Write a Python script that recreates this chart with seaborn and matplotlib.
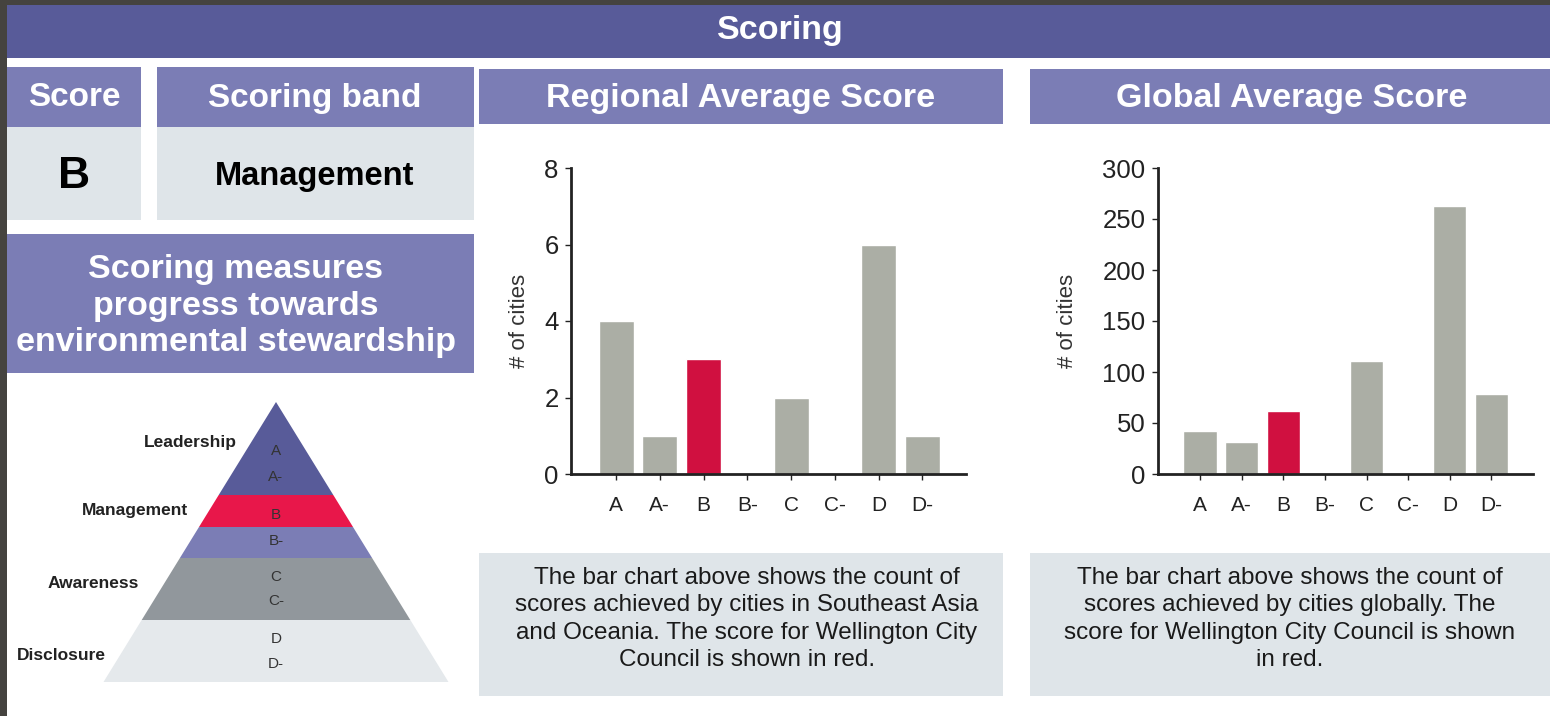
import matplotlib
matplotlib.use("Agg")
import matplotlib.pyplot as plt
from matplotlib.patches import Rectangle, Polygon
import seaborn as sns
import pandas as pd

# data
grades = ["A", "A-", "B", "B-", "C", "C-", "D", "D-"]
regional_counts = [4, 1, 3, 0, 2, 0, 6, 1]
global_counts = [42, 31, 62, 0, 111, 1, 263, 78]
city_grade = "B"
score_band = "Management"
bands = ["Leadership", "Management", "Awareness", "Disclosure"]

# colours
DARK = "#585b99"
MID = "#7b7db5"
PALE = "#dfe5e9"
RED = "#d01040"
GREY = "#abaea5"

sns.set_theme(style="white")
plt.rcParams["font.family"] = ["Liberation Sans", "DejaVu Sans"]

W, H = 1550, 716
fig = plt.figure(figsize=(W / 100, H / 100), dpi=100, facecolor="white")

# background layer in pixel coordinates
bg = fig.add_axes([0, 0, 1, 1], zorder=0)
bg.set_xlim(0, W)
bg.set_ylim(H, 0)
bg.axis("off")


def box(x0, y0, x1, y1, color):
    bg.add_patch(Rectangle((x0, y0), x1 - x0, y1 - y0, facecolor=color, edgecolor="none"))


# frame + banner
box(0, 0, W, 5, "#45433f")
box(0, 0, 7, H, "#45433f")
box(7, 5, W, 58, DARK)
bg.text(780, 31, "Scoring", color="white", fontsize=24.5, fontweight="bold", ha="center", va="center")

# score / band boxes
box(7, 67, 141, 127, MID)
box(7, 127, 141, 220, PALE)
box(157, 67, 474, 127, MID)
box(157, 127, 474, 220, PALE)
bg.text(74, 98, "Score", color="white", fontsize=24, fontweight="bold", ha="center", va="center")
bg.text(315, 98, "Scoring band", color="white", fontsize=24, fontweight="bold", ha="center", va="center")
bg.text(74, 176, city_grade, color="black", fontsize=32, fontweight="bold", ha="center", va="center")
bg.text(315, 177, score_band, color="black", fontsize=23.5, fontweight="bold", ha="center", va="center")

# headers for charts
box(479, 69, 1003, 124, MID)
box(1030, 69, W, 124, MID)
bg.text(741, 98, "Regional Average Score", color="white", fontsize=24.5, fontweight="bold", ha="center", va="center")
bg.text(1292, 98, "Global Average Score", color="white", fontsize=24.5, fontweight="bold", ha="center", va="center")

# scoring measures box
box(7, 234, 474, 373, MID)
bg.text(236, 306, "Scoring measures\nprogress towards\nenvironmental stewardship", color="white",
        fontsize=24.5, fontweight="bold", ha="center", va="center", linespacing=1.22)

# pyramid
apex_x, apex_y, base_y, half_base = 276, 402, 682, 172.5
edges = [402, 495, 527, 558, 620, 682]
band_colors = [DARK, "#e8174a", MID, "#91979c", "#e5e9ec"]


def half(y):
    return (y - apex_y) / (base_y - apex_y) * half_base


for i, c in enumerate(band_colors):
    y0, y1 = edges[i], edges[i + 1]
    pts = [(apex_x - half(y0), y0), (apex_x + half(y0), y0), (apex_x + half(y1), y1), (apex_x - half(y1), y1)]
    bg.add_patch(Polygon(pts, closed=True, facecolor=c, edgecolor="none"))

letter_y = [451, 477, 515, 541, 577, 601, 639, 664]
for g, y in zip(grades, letter_y):
    bg.text(apex_x, y, g, color="#333333", fontsize=11, ha="center", va="center")

band_label_pos = [(237, 443), (188, 511), (139, 584), (106, 656)]
for name, (x, y) in zip(bands, band_label_pos):
    bg.text(x, y, name, color="#222222", fontsize=12.5, fontweight="bold", ha="right", va="center")

# description boxes
box(479, 553, 1003, 696, PALE)
box(1030, 553, W, 696, PALE)
bg.text(747, 619, "The bar chart above shows the count of\nscores achieved by cities in Southeast Asia\n"
        "and Oceania. The score for Wellington City\nCouncil is shown in red.",
        color="#1a1a1a", fontsize=17.5, ha="center", va="center", linespacing=1.32)
bg.text(1290, 619, "The bar chart above shows the count of\nscores achieved by cities globally. The\n"
        "score for Wellington City Council is shown\nin red.",
        color="#1a1a1a", fontsize=17.5, ha="center", va="center", linespacing=1.32)


def bar_chart(rect, counts, ymax, step, xr, label_x):
    ax = fig.add_axes(rect, zorder=2)
    ax.set_facecolor("none")
    df = pd.DataFrame({"grade": grades, "count": counts})
    pal = {g: (RED if g == city_grade else GREY) for g in grades}
    sns.barplot(data=df, x="grade", y="count", hue="grade", palette=pal, legend=False,
                width=0.8, saturation=1, ax=ax)
    ax.set_xlim(*xr)
    ax.set_ylim(0, ymax)
    ax.set_yticks(range(0, ymax + 1, step))
    ax.set_xlabel("")
    ax.set_ylabel("# of cities", fontsize=16, color="#333333")
    ax.yaxis.set_label_coords(label_x, 0.5)
    sns.despine(ax=ax)
    for s in ["left", "bottom"]:
        ax.spines[s].set_linewidth(2)
        ax.spines[s].set_color("#222222")
    ax.tick_params(axis="y", labelsize=18.5, length=4, width=1, colors="#222222", direction="out", left=True, pad=5)
    ax.tick_params(axis="x", labelsize=15, length=4, width=1, colors="#222222", direction="out", bottom=True, pad=12)
    return ax


bottom = 1 - 474 / H
height = (474 - 168) / H
bar_chart([571 / W, bottom, 395 / W, height], regional_counts, 8, 2, (-1.03, 8.0), -0.105)
bar_chart([1158 / W, bottom, 375 / W, height], global_counts, 300, 50, (-1.01, 8.0), -0.213)

fig.savefig("out.png", dpi=100, facecolor="white")
